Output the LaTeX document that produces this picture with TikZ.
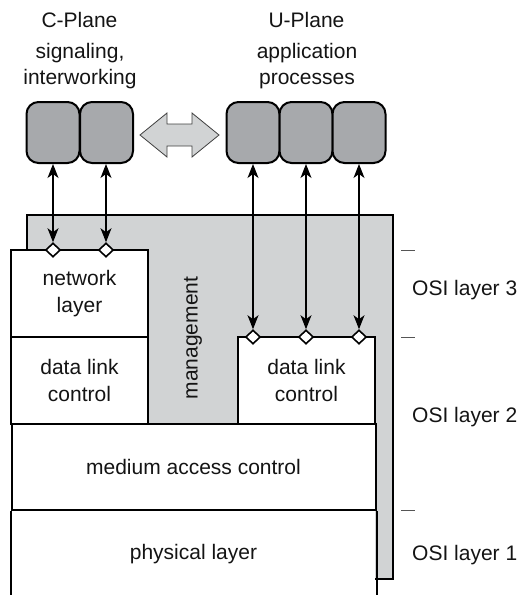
\documentclass[tikz,border=0pt]{standalone}
\usepackage{fontspec}
\setmainfont{Liberation Sans}
\usetikzlibrary{shapes.geometric,arrows.meta}
\definecolor{mgmt}{HTML}{D1D3D4}
\definecolor{proc}{HTML}{A7A9AC}
\definecolor{tickc}{HTML}{555555}
\tikzset{
  lbl/.style={font=\fontsize{21}{26.5}\selectfont, inner sep=0pt, align=center, text=black!92},
  layerbox/.style={draw, line width=2pt, fill=white, inner sep=0pt, lbl},
  procbox/.style={draw, line width=2pt, fill=proc, rounded corners=12pt, minimum width=53pt, minimum height=61pt, inner sep=0pt},
  sap/.style={diamond, draw, line width=1.6pt, fill=white, inner sep=0pt, minimum width=15pt, minimum height=14pt},
  link/.style={line width=1.1pt, {Stealth[length=14pt,width=11pt,inset=4pt]}-{Stealth[length=14pt,width=11pt,inset=4pt]}},
  tick/.style={line width=0.8pt, draw=tickc}
}
\begin{document}
\begin{tikzpicture}[x=1pt,y=-1pt]
\useasboundingbox (0,0) rectangle (518,595);
% management area
\fill[mgmt] (27,215) -- (393,215) -- (393,579) -- (375,579) -- (375,510) -- (27,510) -- cycle;
\draw[line width=2pt] (27,250) -- (27,215) -- (393,215) -- (393,579) -- (375,579);
\node[lbl, rotate=90] (mgmt) at (193,338) {management};
% layer boxes
\node[layerbox, minimum width=137pt, minimum height=87pt] (net) at (79.5,293.5) {network\\layer};
\node[layerbox, minimum width=137pt, minimum height=87pt] (dlcl) at (79.5,380.5) {data link\\control};
\node[layerbox, minimum width=137pt, minimum height=87pt] (dlcr) at (306.5,380.5) {data link\\control};
\node[layerbox, minimum width=364pt, minimum height=86pt] (mac) at (193.5,467) {medium access control};
\node[lbl] (phy) at (193.5,554) {physical layer};
\draw[line width=2pt] (mac.south west) -- ++(0,90);
\draw[line width=2pt] (mac.south east) -- ++(0,90);
% process boxes
\node[procbox] (c1) at (53,132.5) {};
\node[procbox] (c2) at (106.5,132.5) {};
\node[procbox] (u1) at (253,132.5) {};
\node[procbox] (u2) at (306,132.5) {};
\node[procbox] (u3) at (359,132.5) {};
% hollow double arrow
\filldraw[fill=mgmt, draw=black!75, line width=0.8pt]
  (140,135) -- (167,113) -- (167,124) -- (192,124) -- (192,113) -- (219,135)
  -- (192,157) -- (192,146) -- (167,146) -- (167,157) -- cycle;
% service access points
\node[sap] (s1) at (53,250) {};
\node[sap] (s2) at (106,250) {};
\node[sap] (s3) at (253,337) {};
\node[sap] (s4) at (306,337) {};
\node[sap] (s5) at (359,337) {};
% links
\draw[link] (c1.south) -- (s1.north);
\draw[link] (s2.north |- c2.south) -- (s2.north);
\draw[link] (u1.south) -- (s3.north);
\draw[link] (u2.south) -- (s4.north);
\draw[link] (u3.south) -- (s5.north);
% headings
\node[lbl] (cpl) at (79.5,20) {C-Plane};
\node[lbl] (csub) at (80,66) {signaling,\\interworking};
\node[lbl] (upl) at (306.5,20) {U-Plane};
\node[lbl] (usub) at (307,66) {application\\processes};
% OSI layers
\draw[tick] (401,250) -- (415,250);
\draw[tick] (401,337) -- (415,337);
\draw[tick] (401,510) -- (415,510);
\node[lbl, anchor=west] (osi3) at (412,290) {OSI layer 3};
\node[lbl, anchor=west] (osi2) at (412,417) {OSI layer 2};
\node[lbl, anchor=west] (osi1) at (412,555) {OSI layer 1};
\end{tikzpicture}
\end{document}
